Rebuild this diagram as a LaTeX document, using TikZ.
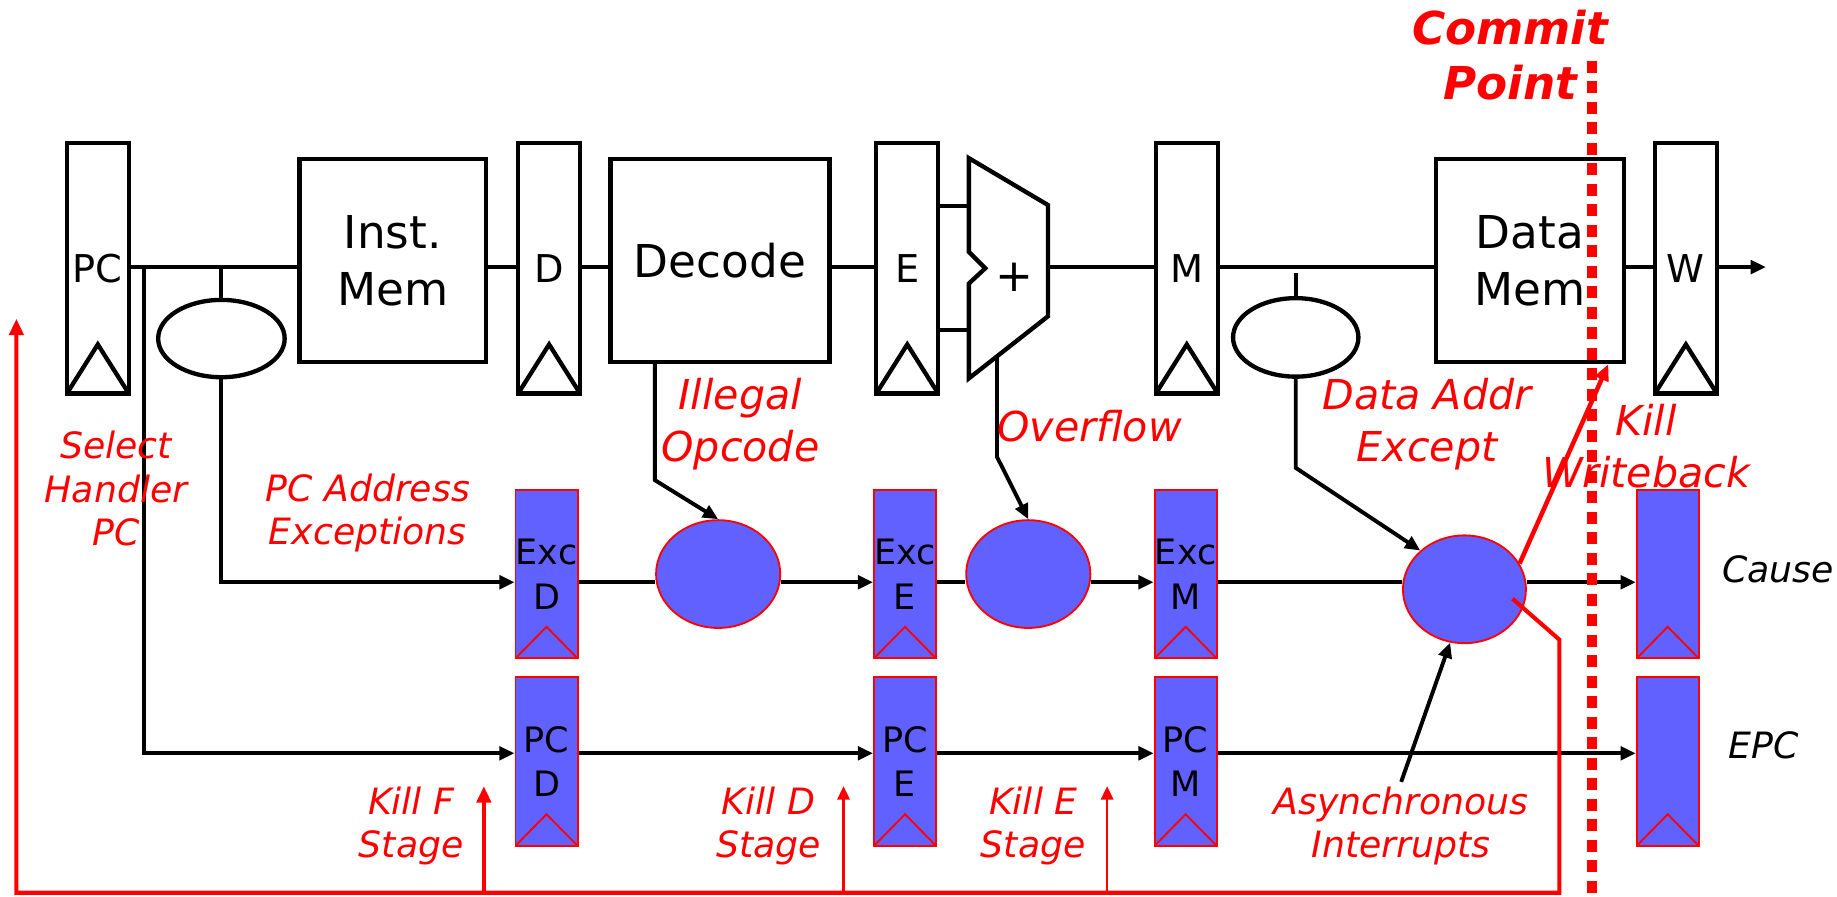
\documentclass[tikz,border=0pt]{standalone}
\usepackage{fontspec}
\setmainfont{DejaVu Sans}
\usepackage{tikz}
\usetikzlibrary{arrows.meta, calc, shapes.geometric}
\definecolor{excblue}{HTML}{6161FF}
\definecolor{hotred}{HTML}{FF0000}

\begin{document}
\begin{tikzpicture}[x=0.1mm, y=-0.1mm,
    wire/.style={line width=0.95pt},
    arr/.style={wire, -{Triangle[length=1.3mm, width=1.15mm]}},
    redarr/.style={draw=hotred, line width=1pt, -{Triangle[length=1.4mm, width=1.2mm]}},
    thinredarr/.style={draw=hotred, line width=0.55pt, -{Triangle[length=1.15mm, width=1.05mm]}},
    block/.style={draw, line width=1.05pt, minimum height=17.3mm, align=center,
      font=\fontsize{11}{13.7}\selectfont},
    pipereg/.style={draw, line width=1.05pt, minimum width=5.3mm, minimum height=21.4mm,
      inner sep=0pt, font=\fontsize{9.3}{11}\selectfont,
      path picture={\draw[line width=1.05pt] (path picture bounding box.south west)
        -- ([yshift=4.2mm]path picture bounding box.south) -- (path picture bounding box.south east);}},
    excreg/.style={fill=excblue, draw=hotred, line width=0.45pt, minimum width=5.3mm,
      minimum height=14.4mm, inner sep=0pt, align=center, font=\fontsize{8.5}{10.9}\selectfont,
      path picture={\draw[hotred, line width=0.45pt] (path picture bounding box.south west)
        -- ([yshift=2.7mm]path picture bounding box.south) -- (path picture bounding box.south east);}},
    oval/.style={draw, ellipse, line width=1.05pt, inner sep=0pt},
    blueoval/.style={ellipse, fill=excblue, draw=hotred, line width=0.45pt, inner sep=0pt,
      minimum width=10.6mm, minimum height=9.2mm},
    tag/.style={text=hotred, align=center, inner sep=1pt, font=\fontsize{8.8}{10.5}\selectfont\itshape},
    bigtag/.style={tag, font=\fontsize{10}{12.7}\selectfont\itshape},
    outtag/.style={inner sep=1pt, font=\fontsize{8.8}{10.5}\selectfont\itshape},
    commit/.style={text=hotred, align=center, inner sep=1pt,
      font=\fontsize{11}{13.4}\selectfont\bfseries\itshape}]
  \useasboundingbox (0,0) rectangle (1568,765);

  \coordinate (mainrow) at (0,228);
  \coordinate (excrow) at (0,497);
  \coordinate (pcrow) at (0,643);
  \coordinate (loopbot) at (0,762);

  \node[pipereg] (pc) at (83.5,229) {PC};
  \node[block, minimum width=15.95mm] (imem) at (335.3,222.5) {Inst.\\Mem};
  \node[pipereg] (dreg) at (468.7,229) {D};
  \node[block, minimum width=18.7mm] (dec) at (614.5,222.5) {Decode};
  \node[pipereg] (ereg) at (774.4,229) {E};
  \node[pipereg] (mreg) at (1013,229) {M};
  \node[block, minimum width=16.05mm] (dmem) at (1305.7,222.5) {Data\\Mem};
  \node[pipereg] (wreg) at (1439,229) {W};

  \draw[wire, line width=1.05pt, line join=miter] (827,135) -- (894.5,175) -- (894.5,270) -- (827,323)
    -- (827,242) -- (841,229) -- (827,215) -- cycle;
  \node[font=\fontsize{11}{13}\selectfont] (add) at (865.6,237) {+};
  \coordinate (addinA) at (827,176);
  \coordinate (addinB) at (827,282);
  \coordinate (addout) at (894.5,228);
  \coordinate (ovftap) at (851,304);

  \node[oval, minimum width=10.8mm, minimum height=6.6mm] (lell) at (189,289) {};
  \node[oval, minimum width=10.7mm, minimum height=6.7mm] (rell) at (1106,288) {};

  \node[excreg] (excD) at (466.5,490) {Exc\\D};
  \node[excreg] (pcD) at (466.5,650) {PC\\D};
  \node[excreg] (excE) at (772.5,490) {Exc\\E};
  \node[excreg] (pcE) at (772.5,650) {PC\\E};
  \node[excreg] (excM) at (1012,490) {Exc\\M};
  \node[excreg] (pcM) at (1012,650) {PC\\M};
  \node[excreg] (cause) at (1423.5,490) {};
  \node[excreg] (epc) at (1423.5,650) {};

  \node[blueoval] (ell1) at (613,490) {};
  \node[blueoval] (ell2) at (877.7,490) {};
  \node[blueoval, minimum width=10.5mm] (ell3) at (1250,503) {};

  \draw[wire] (pc.east |- mainrow) -- (imem.west |- mainrow);
  \draw[wire] (imem.east |- mainrow) -- (dreg.west |- mainrow);
  \draw[wire] (dreg.east |- mainrow) -- (dec.west |- mainrow);
  \draw[wire] (dec.east |- mainrow) -- (ereg.west |- mainrow);
  \draw[wire] (ereg.east |- addinA) -- (addinA);
  \draw[wire] (ereg.east |- addinB) -- (addinB);
  \draw[wire] (addout) -- (mreg.west |- mainrow);
  \draw[wire] (mreg.east |- mainrow) -- (dmem.west |- mainrow);
  \draw[wire] (dmem.east |- mainrow) -- (wreg.west |- mainrow);
  \draw[arr] (wreg.east |- mainrow) -- ++(40,0);

  \draw[wire] (lell.north |- mainrow) -- (lell.north);
  \draw[wire] ([yshift=-0.5mm]rell.north |- mainrow) -- (rell.north);

  \coordinate (pctap) at ($(pc.east |- mainrow)+(11,0)$);
  \draw[arr] (pctap) |- (pcD.west |- pcrow);
  \draw[arr] (lell.south) |- (excD.west |- excrow);

  \draw[wire] (excD.east |- excrow) -- (ell1.west |- excrow);
  \draw[arr] (ell1.east |- excrow) -- (excE.west |- excrow);
  \draw[wire] (excE.east |- excrow) -- (ell2.west |- excrow);
  \draw[arr] (ell2.east |- excrow) -- (excM.west |- excrow);
  \draw[wire] (excM.east |- excrow) -- (ell3.west |- excrow);
  \draw[arr] (ell3.east |- excrow) -- (cause.west |- excrow);

  \draw[arr] (pcD.east |- pcrow) -- (pcE.west |- pcrow);
  \draw[arr] (pcE.east |- pcrow) -- (pcM.west |- pcrow);
  \draw[arr] (pcM.east |- pcrow) -- (epc.west |- pcrow);

  \coordinate (illtap) at ($(dec.south)+(-55.5,0)$);
  \draw[arr] (illtap) -- ++(0,99) -- (ell1.north);
  \draw[arr] (ovftap) -- ++(0,86) -- (ell2.north);
  \draw[arr] (rell.south) -- ++(0,76) -- (ell3.north west);

  \node[tag] (selh) at (99,417) {Select\\Handler\\PC};
  \node[tag] (pcaddr) at (314,438) {PC Address\\Exceptions};
  \node[bigtag] (illop) at (632,362) {Illegal\\Opcode};
  \node[bigtag] (ovf) at (930,364) {Overflow};
  \node[bigtag] (daddr) at (1218,362) {Data Addr\\Except};
  \node[bigtag] (killwb) at (1405,381) {Kill\\Writeback};
  \node[tag] (killFl) at (351,705) {Kill F\\Stage};
  \node[tag] (killDl) at (656,705) {Kill D\\Stage};
  \node[tag] (killEl) at (882,705) {Kill E\\Stage};
  \node[tag] (async) at (1196,705) {Asynchronous\\Interrupts};
  \node[outtag, anchor=west] (causel) at (1466,486) {Cause};
  \node[outtag, anchor=west] (epcl) at (1471,636) {EPC};
  \node[commit] (commitpt) at (1289,47) {Commit\\Point};

  \draw[arr] (async.north) -- (ell3.255);

  \coordinate (hpc) at (14,272);
  \coordinate (killF) at (413,671);
  \coordinate (killD) at (720,671);
  \coordinate (killE) at (945,671);
  \draw[redarr, line join=miter] ($(ell3.center)+(41,8)$) -- ++(40,35) -- ++(0,216) -| (hpc);
  \draw[redarr] (killF |- loopbot) -- (killF);
  \draw[thinredarr] (killD |- loopbot) -- (killD);
  \draw[thinredarr] (killE |- loopbot) -- (killE);
  \draw[redarr, line width=1.1pt] (ell3.25) -- ([xshift=-1.5mm]dmem.south east);

  \draw[hotred, line width=2.3pt, dash pattern=on 1mm off 0.75mm] (1359,52) -- (1359,765);
\end{tikzpicture}
\end{document}
